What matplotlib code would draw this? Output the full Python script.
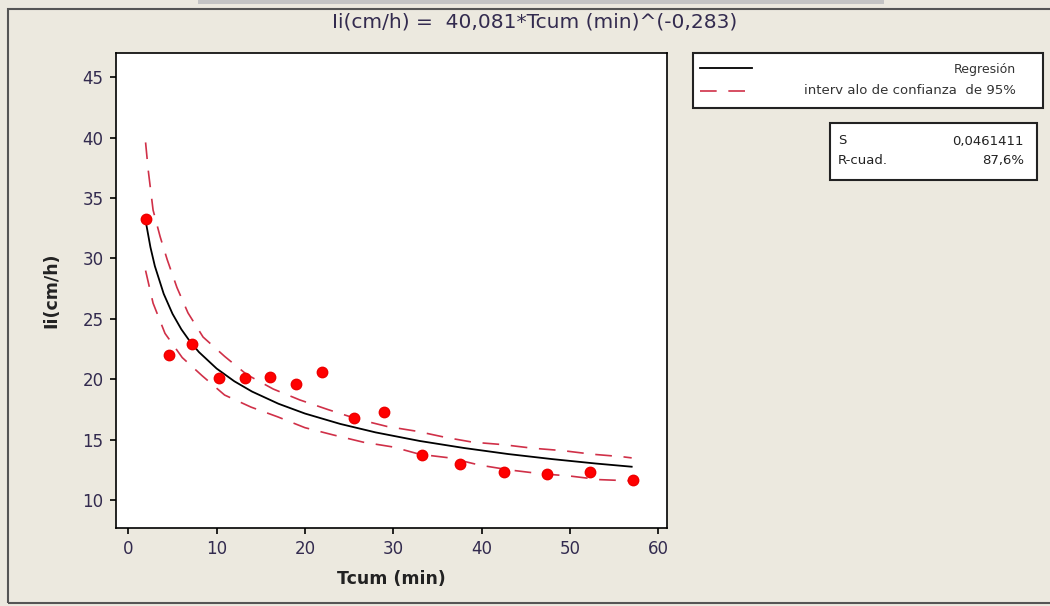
import matplotlib.pyplot as plt
from matplotlib.lines import Line2D
from matplotlib.patches import Rectangle

# observed points (Tcum in min, Ii in cm/h)
tcum = [2.0, 4.6, 7.25, 10.3, 13.2, 16.0, 18.95, 21.9, 25.55, 28.9,
        33.3, 37.6, 42.5, 47.4, 52.3, 57.1]
ii = [33.3, 22.0, 22.9, 20.1, 20.1, 20.2, 19.6, 20.6, 16.8, 17.3,
      13.7, 13.0, 12.3, 12.2, 12.3, 11.7]

# fitted curve Ii = 40,081 * Tcum^(-0,283), values read at these points
fit_x = [2, 2.5, 3, 4, 5, 6, 7, 8, 10, 12, 14, 17, 20, 24, 28, 33, 38, 43, 48, 53, 57]
fit_y = [32.94, 30.93, 29.37, 27.08, 25.42, 24.14, 23.11, 22.25, 20.89, 19.84,
         18.99, 17.98, 17.17, 16.31, 15.61, 14.90, 14.32, 13.82, 13.40, 13.03, 12.77]

# 95% confidence band
up_x = [1.95, 2.25, 2.8, 3.6, 4.4, 5.5, 6.75, 8.46, 10.9, 13.4, 16.4, 19.4, 22.6,
        26.0, 29.3, 32.7, 35.9, 39.0, 42.4, 45.8, 49.2, 52.6, 55.9, 57.0]
up_y = [39.6, 37.3, 34.0, 31.8, 29.9, 27.6, 25.5, 23.5, 21.9, 20.4, 19.2, 18.3, 17.5,
        16.7, 16.1, 15.7, 15.2, 14.8, 14.6, 14.3, 14.1, 13.8, 13.6, 13.5]
lo_x = [1.95, 2.8, 4.15, 6.1, 8.35, 10.9, 13.9, 16.9, 20.0, 23.2, 26.6, 30.0,
        33.0, 36.4, 39.8, 43.2, 46.6, 50.0, 53.4, 57.0]
lo_y = [29.0, 26.3, 23.8, 21.8, 20.3, 18.7, 17.7, 16.9, 16.0, 15.4, 14.8, 14.4,
        13.8, 13.5, 12.9, 12.5, 12.2, 12.0, 11.7, 11.6]

title = 'Ii(cm/h) =  40,081*Tcum (min)^(-0,283)'
stats = [('S', '0,0461411'), ('R-cuad.', '87,6%')]

W, H = 1050, 606
bg = '#ece9df'
txt = '#332b4f'
band_col = '#d03048'


def fx(px):
    return px / W


def fy(py):
    return 1 - py / H


fig = plt.figure(figsize=(W / 100, H / 100), dpi=100, facecolor=bg)

# outer frame and top strip
fig.add_artist(Rectangle((fx(8), fy(603)), fx(1060 - 8), fy(9) - fy(603),
                         transform=fig.transFigure, fill=False, ec='#555555', lw=1.5))
fig.add_artist(Rectangle((fx(198), fy(4)), fx(884 - 198), fy(0) - fy(4),
                         transform=fig.transFigure, fc='#c4c4c4', ec='none'))

ax = fig.add_axes([fx(116), fy(528), fx(667 - 116), fy(53) - fy(528)])
ax.set_facecolor('white')

ax.plot(fit_x, fit_y, color='black', lw=1.3, zorder=3)
l1, = ax.plot(up_x, up_y, color=band_col, lw=1.2, zorder=2)
l2, = ax.plot(lo_x, lo_y, color=band_col, lw=1.2, zorder=2)
for ln in (l1, l2):
    ln.set_dashes([10, 7])
ax.plot(tcum, ii, 'o', color='#ff0000', ms=7.5, mec='#ee0000', zorder=4)

ax.set_xlim(-1.4, 61.0)
ax.set_ylim(7.7, 47.0)
ax.set_xticks(range(0, 61, 10))
ax.set_yticks(range(10, 46, 5))
ax.tick_params(direction='out', length=4, width=1.2, labelsize=12,
               labelcolor=txt, pad=5)
for s in ax.spines.values():
    s.set_linewidth(1.2)

ax.set_xlabel('Tcum (min)', fontsize=12.5, fontweight='bold', color='#222222', labelpad=8)
ax.set_ylabel('Ii(cm/h)', fontsize=12.5, fontweight='bold', color='#222222', labelpad=16)

fig.text(fx(535), fy(22), title, ha='center', va='center', fontsize=14.5, color=txt)

# legend box
fig.add_artist(Rectangle((fx(693), fy(108)), fx(1043 - 693), fy(53) - fy(108),
                         transform=fig.transFigure, fc='white', ec='#222222', lw=1.5))
fig.add_artist(Line2D([fx(700), fx(752)], [fy(68), fy(68)], transform=fig.transFigure,
                      color='black', lw=1.3))
leg_dash = Line2D([fx(700), fx(752)], [fy(91), fy(91)], transform=fig.transFigure,
                  color=band_col, lw=1.2)
leg_dash.set_dashes([10, 7])
fig.add_artist(leg_dash)
fig.text(fx(1016), fy(69), 'Regresión', ha='right', va='center', fontsize=9, color='#333333')
fig.text(fx(1016), fy(91), 'interv alo de confianza  de 95%', ha='right', va='center',
         fontsize=9.5, color='#333333')

# stats box
fig.add_artist(Rectangle((fx(830), fy(180)), fx(1037 - 830), fy(123) - fy(180),
                         transform=fig.transFigure, fc='white', ec='#222222', lw=1.5))
for i, (k, v) in enumerate(stats):
    y = fy(141 + 20 * i)
    fig.text(fx(838), y, k, ha='left', va='center', fontsize=9.5, color='#222222')
    fig.text(fx(1024), y, v, ha='right', va='center', fontsize=9.5, color='#222222')

fig.savefig('out.png', dpi=100, facecolor=bg)
